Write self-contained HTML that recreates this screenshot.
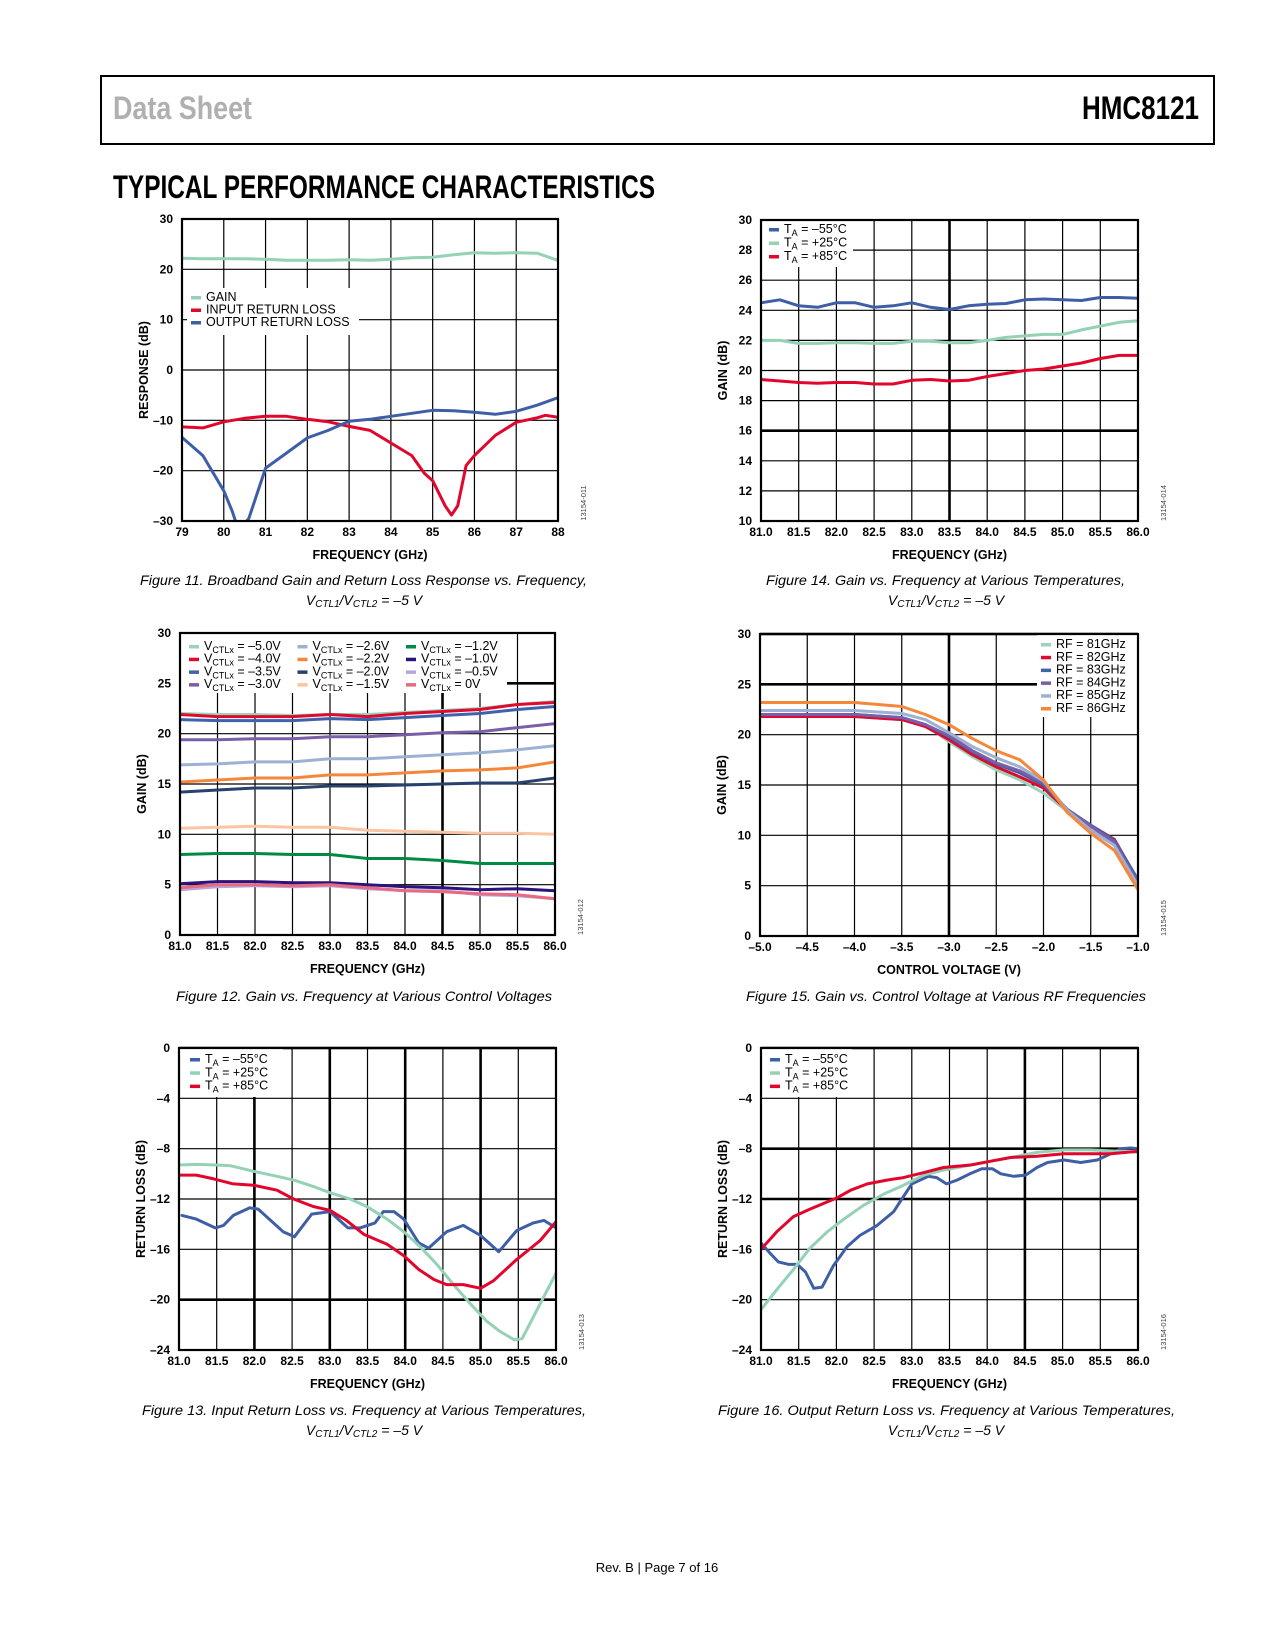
<!DOCTYPE html>
<html><head><meta charset="utf-8"><title>HMC8121 Typical Performance Characteristics</title>
<style>
html,body{margin:0;padding:0;background:#fff;}
#page{position:relative;width:1275px;height:1650px;overflow:hidden;}
svg text{font-family:"Liberation Sans",sans-serif;}
</style></head>
<body>
<div id="page">
<svg id="charts" width="1275" height="1650" viewBox="0 0 1275 1650" xmlns="http://www.w3.org/2000/svg">
  <rect x="101" y="76" width="1113" height="68" fill="none" stroke="#000" stroke-width="2"/>
  <text x="113" y="119" font-size="32" font-weight="bold" fill="#b0b0b0" textLength="139" lengthAdjust="spacingAndGlyphs">Data Sheet</text>
  <text x="1082" y="119" font-size="32" font-weight="bold" fill="#000" textLength="117" lengthAdjust="spacingAndGlyphs">HMC8121</text>
  <text x="113" y="198" font-size="32" font-weight="bold" fill="#000" textLength="542" lengthAdjust="spacingAndGlyphs">TYPICAL PERFORMANCE CHARACTERISTICS</text>

  <text x="140" y="585" font-size="14" font-style="italic" textLength="447" lengthAdjust="spacingAndGlyphs">Figure 11. Broadband Gain and Return Loss Response vs. Frequency,</text>
  <text x="364" y="605" font-size="14" font-style="italic" text-anchor="middle">V<tspan font-size="10" dy="2">CTL1</tspan><tspan dy="-2">/V</tspan><tspan font-size="10" dy="2">CTL2</tspan><tspan dy="-2"> = –5 V</tspan></text>
  <text x="766" y="585" font-size="14" font-style="italic" textLength="359" lengthAdjust="spacingAndGlyphs">Figure 14. Gain vs. Frequency at Various Temperatures,</text>
  <text x="946" y="605" font-size="14" font-style="italic" text-anchor="middle">V<tspan font-size="10" dy="2">CTL1</tspan><tspan dy="-2">/V</tspan><tspan font-size="10" dy="2">CTL2</tspan><tspan dy="-2"> = –5 V</tspan></text>
  <text x="176" y="1001" font-size="14" font-style="italic" textLength="376" lengthAdjust="spacingAndGlyphs">Figure 12. Gain vs. Frequency at Various Control Voltages</text>
  <text x="746" y="1001" font-size="14" font-style="italic" textLength="400" lengthAdjust="spacingAndGlyphs">Figure 15. Gain vs. Control Voltage at Various RF Frequencies</text>
  <text x="142" y="1415" font-size="14" font-style="italic" textLength="444" lengthAdjust="spacingAndGlyphs">Figure 13. Input Return Loss vs. Frequency at Various Temperatures,</text>
  <text x="364" y="1435" font-size="14" font-style="italic" text-anchor="middle">V<tspan font-size="10" dy="2">CTL1</tspan><tspan dy="-2">/V</tspan><tspan font-size="10" dy="2">CTL2</tspan><tspan dy="-2"> = –5 V</tspan></text>
  <text x="718" y="1415" font-size="14" font-style="italic" textLength="457" lengthAdjust="spacingAndGlyphs">Figure 16. Output Return Loss vs. Frequency at Various Temperatures,</text>
  <text x="946" y="1435" font-size="14" font-style="italic" text-anchor="middle">V<tspan font-size="10" dy="2">CTL1</tspan><tspan dy="-2">/V</tspan><tspan font-size="10" dy="2">CTL2</tspan><tspan dy="-2"> = –5 V</tspan></text>
  <text x="657" y="1572" font-size="13" text-anchor="middle">Rev. B | Page 7 of 16</text>
</svg>
</div>
<script>
// ---------- Figure 11 data ----------
const c1XTicks=[79,80,81,82,83,84,85,86,87,88];
const c1YTicks=[-30,-20,-10,0,10,20,30];
const c1GainX=[79,79.5,80,80.5,81,81.5,82,82.5,83,83.5,84,84.5,85,85.5,86,86.5,87,87.5,88];
const c1GainY=[22.2,22.1,22.1,22.1,22,21.8,21.8,21.8,21.9,21.8,22.0,22.3,22.4,22.9,23.3,23.2,23.3,23.2,21.8];
const c1InX=[79,79.5,80,80.5,81,81.5,82,82.5,83,83.5,84,84.5,84.8,85,85.3,85.45,85.6,85.8,86,86.5,87,87.5,87.7,88];
const c1InY=[-11.3,-11.5,-10.3,-9.6,-9.2,-9.2,-9.8,-10.3,-11.2,-12,-14.5,-17,-20.5,-22,-27,-28.8,-27,-19,-17,-13,-10.4,-9.5,-9,-9.4];
const c1OutX=[79,79.5,80,80.2,80.3,80.45,80.6,81,81.5,82,82.5,83,83.5,84,84.5,85,85.5,86,86.5,87,87.5,88];
const c1OutY=[-13.4,-17,-24,-28,-30.5,-31,-29.5,-19.5,-16.5,-13.5,-12,-10.2,-9.8,-9.2,-8.6,-8,-8.1,-8.4,-8.8,-8.2,-7,-5.5];
// ---------- Figure 12 data ----------
const c2XTicks=[81,81.5,82,82.5,83,83.5,84,84.5,85,85.5,86];
const c2YTicks=[0,5,10,15,20,25,30];
const c2Freq=[81,81.5,82,82.5,83,83.5,84,84.5,85,85.5,86];
const c2Vm50=[22,21.9,21.9,21.8,21.9,21.9,22.1,22.3,22.5,22.9,23.2];
const c2Vm40=[21.9,21.7,21.7,21.7,21.9,21.7,22,22.2,22.4,22.9,23.1];
const c2Vm35=[21.4,21.3,21.3,21.3,21.5,21.4,21.6,21.8,22.0,22.4,22.7];
const c2Vm30=[19.4,19.4,19.5,19.5,19.7,19.7,19.9,20.1,20.2,20.6,21.0];
const c2Vm26=[16.9,17.0,17.2,17.2,17.5,17.5,17.7,17.9,18.1,18.4,18.8];
const c2Vm22=[15.2,15.4,15.6,15.6,15.9,15.9,16.1,16.3,16.4,16.6,17.2];
const c2Vm20=[14.2,14.4,14.6,14.6,14.8,14.8,14.9,15.0,15.1,15.1,15.6];
const c2Vm15=[10.6,10.7,10.8,10.7,10.7,10.4,10.3,10.2,10.1,10.1,10.0];
const c2Vm12=[8.0,8.1,8.1,8.0,8.0,7.6,7.6,7.4,7.1,7.1,7.1];
const c2Vm10=[5.1,5.3,5.3,5.2,5.2,5.0,4.8,4.7,4.5,4.6,4.4];
const c2Vm05=[4.5,4.8,4.9,4.8,4.9,4.6,4.4,4.4,4.0,3.9,3.6];
const c2V0=[4.7,5.0,5.0,4.9,5.0,4.7,4.4,4.3,4.1,4.0,3.6];
// ---------- Figure 13 data ----------
const c3XTicks=[81,81.5,82,82.5,83,83.5,84,84.5,85,85.5,86];
const c3YTicks=[-24,-20,-16,-12,-8,-4,0];
const c3ColdX=[81.04,81.23,81.48,81.59,81.72,81.94,82.05,82.38,82.53,82.76,83.0,83.24,83.4,83.6,83.71,83.85,83.98,84.18,84.31,84.55,84.77,85.0,85.24,85.48,85.7,85.84,86];
const c3ColdY=[-13.3,-13.6,-14.3,-14.1,-13.3,-12.7,-12.8,-14.6,-15,-13.2,-13,-14.3,-14.3,-13.9,-13,-13,-13.6,-15.5,-15.9,-14.6,-14.1,-14.9,-16.2,-14.5,-13.9,-13.7,-14.3];
const c3RoomX=[81,81.23,81.5,81.68,81.99,82.3,82.52,82.78,83.0,83.27,83.49,83.76,83.98,84.2,84.42,84.64,84.86,85.08,85.25,85.45,85.55,85.75,86];
const c3RoomY=[-9.3,-9.25,-9.3,-9.35,-9.8,-10.2,-10.5,-11.0,-11.5,-12.0,-12.6,-13.6,-14.6,-15.8,-17.2,-18.8,-20.3,-21.7,-22.5,-23.2,-23.1,-20.8,-17.9];
const c3HotX=[81,81.23,81.46,81.72,81.99,82.3,82.52,82.78,83.0,83.22,83.45,83.76,83.98,84.18,84.38,84.55,84.77,85.0,85.17,85.48,85.79,86.0];
const c3HotY=[-10.1,-10.1,-10.4,-10.8,-10.9,-11.3,-12,-12.6,-12.9,-13.7,-14.8,-15.6,-16.5,-17.6,-18.4,-18.8,-18.8,-19.1,-18.5,-16.8,-15.3,-13.8];
// ---------- Figure 14 data ----------
const c4XTicks=[81,81.5,82,82.5,83,83.5,84,84.5,85,85.5,86];
const c4YTicks=[10,12,14,16,18,20,22,24,26,28,30];
const c4Freq=[81,81.25,81.5,81.75,82,82.25,82.5,82.75,83,83.25,83.5,83.75,84,84.25,84.5,84.75,85,85.25,85.5,85.75,86];
const c4Cold=[24.5,24.7,24.3,24.2,24.5,24.5,24.2,24.3,24.5,24.2,24.05,24.3,24.4,24.45,24.7,24.75,24.7,24.65,24.85,24.85,24.8];
const c4Room=[22.0,22.0,21.8,21.8,21.85,21.85,21.8,21.8,21.95,21.95,21.85,21.85,22.0,22.2,22.3,22.4,22.4,22.7,22.95,23.2,23.3];
const c4Hot=[19.4,19.3,19.2,19.15,19.2,19.2,19.1,19.1,19.35,19.4,19.3,19.35,19.6,19.8,20.0,20.1,20.3,20.5,20.8,21.0,21.0];
// ---------- Figure 15 data ----------
const c5XTicks=[-5,-4.5,-4,-3.5,-3,-2.5,-2,-1.5,-1];
const c5YTicks=[0,5,10,15,20,25,30];
const c5Volt=[-5,-4.5,-4,-3.5,-3.25,-3,-2.75,-2.5,-2.25,-2,-1.75,-1.5,-1.25,-1];
const c5Rf81=[21.8,21.8,21.8,21.5,21,19.3,17.8,16.5,15.5,14.2,12.4,10.5,9.3,5];
const c5Rf82=[21.8,21.8,21.8,21.5,20.8,19.5,18,16.8,15.8,14.7,12.5,11,9.6,5.5];
const c5Rf83=[22,22,22,21.7,21,19.8,18.3,17.1,16.2,15,12.6,11,9.5,5.6];
const c5Rf84=[22,22,22,21.7,21,19.9,18.4,17.2,16.4,15.2,12.6,10.9,9.3,5.3];
const c5Rf85=[22.4,22.4,22.4,22.1,21.5,20.2,18.8,17.7,16.8,15.4,12.5,10.5,9,5];
const c5Rf86=[23.2,23.2,23.2,22.8,22,21,19.6,18.4,17.5,15.5,12.3,10.2,8.5,4.6];
// ---------- Figure 16 data ----------
const c6XTicks=[81,81.5,82,82.5,83,83.5,84,84.5,85,85.5,86];
const c6YTicks=[-24,-20,-16,-12,-8,-4,0];
const c6ColdX=[81.0,81.12,81.23,81.37,81.48,81.59,81.7,81.81,81.96,82.14,82.31,82.54,82.76,82.89,83.0,83.22,83.33,83.46,83.6,83.77,83.93,84.07,84.18,84.35,84.51,84.66,84.8,85.02,85.24,85.46,85.64,85.77,85.9,86.0];
const c6ColdY=[-15.5,-16.3,-17,-17.2,-17.2,-17.8,-19.1,-19,-17.3,-15.8,-14.9,-14.1,-13,-11.8,-10.8,-10.2,-10.3,-10.8,-10.5,-10,-9.6,-9.6,-10,-10.2,-10.1,-9.5,-9.1,-8.9,-9.1,-8.9,-8.4,-8.0,-7.95,-8.0];
const c6RoomX=[81,81.21,81.43,81.65,81.88,82.1,82.36,82.63,82.89,83.16,83.42,83.78,84.04,84.4,84.66,85.02,85.37,85.73,86];
const c6RoomY=[-20.8,-19.2,-17.6,-15.9,-14.6,-13.6,-12.5,-11.6,-10.9,-10.1,-9.7,-9.3,-9,-8.6,-8.3,-8.1,-8.1,-8.2,-8.3];
const c6HotX=[81.0,81.21,81.43,81.65,82.01,82.19,82.41,82.67,82.89,83.16,83.42,83.78,84.04,84.31,84.66,85.02,85.37,85.64,86.0];
const c6HotY=[-16,-14.6,-13.4,-12.8,-11.9,-11.3,-10.8,-10.5,-10.3,-9.9,-9.5,-9.3,-9.0,-8.7,-8.6,-8.4,-8.4,-8.4,-8.2];

const NS='http://www.w3.org/2000/svg';
const root=document.getElementById('charts');
function mk(tag,parent,attrs){const e=document.createElementNS(NS,tag);for(const k in attrs)e.setAttribute(k,attrs[k]);parent.appendChild(e);return e;}
function fmt(v,dec){return v.toFixed(dec).replace('-','–');}

function drawChart(cfg){
  const g=mk('g',root,{});
  
  
  const sx=v=>cfg.L+(v-cfg.xmin)/(cfg.xmax-cfg.xmin)*(cfg.R-cfg.L);
  const sy=v=>cfg.B-(v-cfg.ymin)/(cfg.ymax-cfg.ymin)*(cfg.B-cfg.T);
  const grid=mk('g',g,{});
  
  
  cfg.xTicks.forEach(v=>{const thick=cfg.thickX.includes(v);mk('line',grid,{x1:sx(v),x2:sx(v),y1:cfg.T,y2:cfg.B,stroke:'#000','stroke-width':thick?2.6:1.2});});
  cfg.yTicks.forEach(v=>{const thick=cfg.thickY.includes(v);mk('line',grid,{x1:cfg.L,x2:cfg.R,y1:sy(v),y2:sy(v),stroke:'#000','stroke-width':thick?2.6:1.2});});
  const cid='clip-'+cfg.name;
  const cp=mk('clipPath',g,{id:cid});
  mk('rect',cp,{x:cfg.L,y:cfg.T,width:cfg.R-cfg.L,height:cfg.B-cfg.T});
  const lg=cfg.legend;
  const sg=mk('g',g,{'clip-path':'url(#'+cid+')'});
  cfg.series.forEach(s=>{
    const pts=s.x.map((xv,i)=>sx(xv).toFixed(1)+','+sy(s.y[i]).toFixed(1)).join(' ');
    const pl=mk('polyline',sg,{points:pts,fill:'none',stroke:s.color,'stroke-width':3,'stroke-linejoin':'round','stroke-linecap':'round'});
    
    
  });
  // legend
  const lgG=mk('g',g,{});
  
  
  mk('rect',lgG,{x:lg.bx,y:lg.by,width:lg.bw,height:lg.bh,fill:'#fff'});
  cfg.series.forEach((s,i)=>{
    const col=Math.floor(i/lg.rows), row=i%lg.rows;
    const x=lg.x+col*lg.colW, y=lg.y+row*lg.rowH;
    const e=mk('g',lgG,{});
    
    
    mk('rect',e,{x:x,y:y-5,width:10,height:3.5,fill:s.color});
    const t=mk('text',e,{x:x+15,y:y,'font-size':12.5,fill:'#000'});
    t.innerHTML=s.label;
  });
  // frame
  const fr=mk('rect',g,{x:cfg.L,y:cfg.T,width:cfg.R-cfg.L,height:cfg.B-cfg.T,fill:'none',stroke:'#000','stroke-width':2.2});
  
  
  // tick labels
  cfg.xTicks.forEach(v=>{const t=mk('text',g,{x:sx(v),y:cfg.B+15,'font-size':12,'font-weight':'bold','text-anchor':'middle'});t.textContent=fmt(v,cfg.xdec);
    
    });
  cfg.yTicks.forEach(v=>{const t=mk('text',g,{x:cfg.L-9,y:sy(v)+4,'font-size':12,'font-weight':'bold','text-anchor':'end'});t.textContent=fmt(v,0);
    
    });
  const xt=mk('text',g,{x:(cfg.L+cfg.R)/2,y:cfg.B+38,'font-size':12.5,'font-weight':'bold','text-anchor':'middle'});
  xt.textContent=cfg.xTitle;
  
  
  const yx=cfg.L-34, yy=(cfg.T+cfg.B)/2;
  const yt=mk('text',g,{x:yx,y:yy,'font-size':12.5,'font-weight':'bold','text-anchor':'middle',transform:'rotate(-90 '+yx+' '+yy+')'});
  yt.textContent=cfg.yTitle;
  
  
  const cx=cfg.R+28, cy=cfg.B-18;
  const code=mk('text',g,{x:cx,y:cy,'font-size':7.5,fill:'#444','text-anchor':'middle',transform:'rotate(-90 '+cx+' '+cy+')'});
  code.textContent=cfg.code;
  
  
}
const VC='V<tspan font-size="9" dy="3">CTLx</tspan><tspan dy="-3"> = ';
const TA='T<tspan font-size="9" dy="3">A</tspan><tspan dy="-3"> = ';
const BLUE='#3e5ea6', MINT='#94d1b5', RED='#e2062c';

drawChart({name:'figure-11-chart',L:182,R:558,T:219,B:521,xmin:79,xmax:88,ymin:-30,ymax:30,xTicks:c1XTicks,yTicks:c1YTicks,thickX:[],thickY:[],xdec:0,
  xTitle:'FREQUENCY (GHz)',yTitle:'RESPONSE (dB)',code:'13154-011',
  legend:{bx:187,by:288,bw:172,bh:47,x:191,y:301,rows:3,colW:0,rowH:12.5},
  series:[{key:'gain',label:'GAIN',color:MINT,x:c1GainX,y:c1GainY},
          {key:'input-return-loss',label:'INPUT RETURN LOSS',color:RED,x:c1InX,y:c1InY},
          {key:'output-return-loss',label:'OUTPUT RETURN LOSS',color:BLUE,x:c1OutX,y:c1OutY}]});

drawChart({name:'figure-12-chart',L:180,R:555,T:633,B:935,xmin:81,xmax:86,ymin:0,ymax:30,xTicks:c2XTicks,yTicks:c2YTicks,thickX:[84.5],thickY:[25],xdec:1,
  xTitle:'FREQUENCY (GHz)',yTitle:'GAIN (dB)',code:'13154-012',
  legend:{bx:181,by:634,bw:326,bh:59,x:189,y:650,rows:4,colW:108.5,rowH:12.7},
  series:[{key:'vctl-m5-0',label:VC+'–5.0V</tspan>',color:'#9ad3b9',x:c2Freq,y:c2Vm50},
          {key:'vctl-m4-0',label:VC+'–4.0V</tspan>',color:'#df0a2e',x:c2Freq,y:c2Vm40},
          {key:'vctl-m3-5',label:VC+'–3.5V</tspan>',color:'#3f63ab',x:c2Freq,y:c2Vm35},
          {key:'vctl-m3-0',label:VC+'–3.0V</tspan>',color:'#7b5ea8',x:c2Freq,y:c2Vm30},
          {key:'vctl-m2-6',label:VC+'–2.6V</tspan>',color:'#9db1d4',x:c2Freq,y:c2Vm26},
          {key:'vctl-m2-2',label:VC+'–2.2V</tspan>',color:'#f5873b',x:c2Freq,y:c2Vm22},
          {key:'vctl-m2-0',label:VC+'–2.0V</tspan>',color:'#29426d',x:c2Freq,y:c2Vm20},
          {key:'vctl-m1-5',label:VC+'–1.5V</tspan>',color:'#fbc4a2',x:c2Freq,y:c2Vm15},
          {key:'vctl-m1-2',label:VC+'–1.2V</tspan>',color:'#008a45',x:c2Freq,y:c2Vm12},
          {key:'vctl-m1-0',label:VC+'–1.0V</tspan>',color:'#2b127c',x:c2Freq,y:c2Vm10},
          {key:'vctl-m0-5',label:VC+'–0.5V</tspan>',color:'#b6a6db',x:c2Freq,y:c2Vm05},
          {key:'vctl-0',label:VC+'0V</tspan>',color:'#e96a80',x:c2Freq,y:c2V0}]});

drawChart({name:'figure-13-chart',L:179,R:556,T:1048,B:1350,xmin:81,xmax:86,ymin:-24,ymax:0,xTicks:c3XTicks,yTicks:c3YTicks,thickX:[82,83,84,85],thickY:[-20,0],xdec:1,
  xTitle:'FREQUENCY (GHz)',yTitle:'RETURN LOSS (dB)',code:'13154-013',
  legend:{bx:180,by:1049,bw:103,bh:48,x:190,y:1063,rows:3,colW:0,rowH:13.3},
  series:[{key:'ta-m55',label:TA+'–55°C</tspan>',color:BLUE,x:c3ColdX,y:c3ColdY},
          {key:'ta-p25',label:TA+'+25°C</tspan>',color:MINT,x:c3RoomX,y:c3RoomY},
          {key:'ta-p85',label:TA+'+85°C</tspan>',color:RED,x:c3HotX,y:c3HotY}]});

drawChart({name:'figure-14-chart',L:761,R:1138,T:220,B:521,xmin:81,xmax:86,ymin:10,ymax:30,xTicks:c4XTicks,yTicks:c4YTicks,thickX:[83.5],thickY:[16],xdec:1,
  xTitle:'FREQUENCY (GHz)',yTitle:'GAIN (dB)',code:'13154-014',
  legend:{bx:762,by:221,bw:91,bh:46,x:769,y:233,rows:3,colW:0,rowH:13.5},
  series:[{key:'ta-m55',label:TA+'–55°C</tspan>',color:BLUE,x:c4Freq,y:c4Cold},
          {key:'ta-p25',label:TA+'+25°C</tspan>',color:MINT,x:c4Freq,y:c4Room},
          {key:'ta-p85',label:TA+'+85°C</tspan>',color:RED,x:c4Freq,y:c4Hot}]});

drawChart({name:'figure-15-chart',L:760,R:1138,T:634,B:936,xmin:-5,xmax:-1,ymin:0,ymax:30,xTicks:c5XTicks,yTicks:c5YTicks,thickX:[-3],thickY:[25,30],xdec:1,
  xTitle:'CONTROL VOLTAGE (V)',yTitle:'GAIN (dB)',code:'13154-015',
  legend:{bx:1037,by:635,bw:100,bh:82,x:1041,y:648,rows:6,colW:0,rowH:12.8},
  series:[{key:'rf-81ghz',label:'RF = 81GHz',color:'#9ad3b9',x:c5Volt,y:c5Rf81},
          {key:'rf-82ghz',label:'RF = 82GHz',color:'#df0a2e',x:c5Volt,y:c5Rf82},
          {key:'rf-83ghz',label:'RF = 83GHz',color:'#3f63ab',x:c5Volt,y:c5Rf83},
          {key:'rf-84ghz',label:'RF = 84GHz',color:'#7b5ea8',x:c5Volt,y:c5Rf84},
          {key:'rf-85ghz',label:'RF = 85GHz',color:'#9db1d4',x:c5Volt,y:c5Rf85},
          {key:'rf-86ghz',label:'RF = 86GHz',color:'#f5873b',x:c5Volt,y:c5Rf86}]});

drawChart({name:'figure-16-chart',L:761,R:1138,T:1048,B:1350,xmin:81,xmax:86,ymin:-24,ymax:0,xTicks:c6XTicks,yTicks:c6YTicks,thickX:[84.5],thickY:[-8,-12,0],xdec:1,
  xTitle:'FREQUENCY (GHz)',yTitle:'RETURN LOSS (dB)',code:'13154-016',
  legend:{bx:762,by:1049,bw:90,bh:48,x:770,y:1063,rows:3,colW:0,rowH:13.3},
  series:[{key:'ta-m55',label:TA+'–55°C</tspan>',color:BLUE,x:c6ColdX,y:c6ColdY},
          {key:'ta-p25',label:TA+'+25°C</tspan>',color:MINT,x:c6RoomX,y:c6RoomY},
          {key:'ta-p85',label:TA+'+85°C</tspan>',color:RED,x:c6HotX,y:c6HotY}]});
</script>
</body></html>
